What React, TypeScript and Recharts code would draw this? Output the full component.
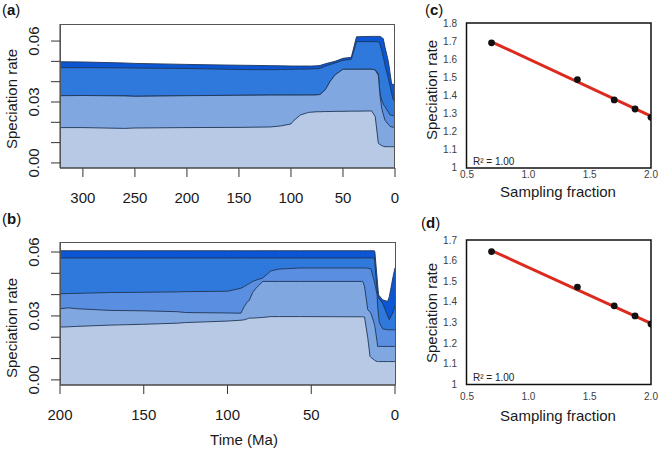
import { AreaChart, Area, XAxis, YAxis, ComposedChart, Line, Scatter } from 'recharts'

// panel (a): time before present (Ma) and five rate boundaries, lowest to highest
const timeA = [322, 300, 260, 250, 200, 150, 120, 110, 100, 98, 91, 83, 80, 75, 72, 67, 62.5, 57.7, 50, 42, 37, 22.4, 19, 16, 14.4, 12.8, 11.3, 9.6, 6.4, 4.8, 3.2, 1.6, 1, 0]
const a1 = [0.0174, 0.0174, 0.017, 0.0172, 0.0174, 0.0175, 0.0177, 0.0182, 0.0192, 0.0205, 0.0236, 0.0249, 0.025, 0.0252, 0.0252, 0.0253, 0.0253, 0.0254, 0.0254, 0.0255, 0.0255, 0.0256, 0.0228, 0.0097, 0.009, 0.0086, 0.0082, 0.008, 0.008, 0.008, 0.008, 0.008, 0.008, 0.008]
const a2 = [0.0331, 0.0332, 0.033, 0.0328, 0.0331, 0.0333, 0.0334, 0.0334, 0.0334, 0.0334, 0.0334, 0.0334, 0.0334, 0.0335, 0.0337, 0.036, 0.04, 0.0433, 0.0461, 0.0461, 0.0461, 0.0461, 0.0458, 0.043, 0.033, 0.027, 0.024, 0.021, 0.019, 0.018, 0.0177, 0.0176, 0.0176, 0.0176]
const a3 = [0.0331, 0.0332, 0.033, 0.0328, 0.0331, 0.0333, 0.0334, 0.0334, 0.0334, 0.0334, 0.0334, 0.0334, 0.0334, 0.0335, 0.0337, 0.036, 0.04, 0.0433, 0.0461, 0.0461, 0.0461, 0.0461, 0.0458, 0.044, 0.0343, 0.031, 0.029, 0.0277, 0.025, 0.0236, 0.0234, 0.0233, 0.0232, 0.0232]
const a4 = [0.0469, 0.0469, 0.0468, 0.0467, 0.0465, 0.046, 0.0459, 0.046, 0.0461, 0.0461, 0.0462, 0.0462, 0.0463, 0.0464, 0.0466, 0.0476, 0.0484, 0.0492, 0.0505, 0.051, 0.0597, 0.0597, 0.0597, 0.0597, 0.0585, 0.0555, 0.0523, 0.048, 0.0417, 0.038, 0.034, 0.031, 0.031, 0.031]
const a5 = [0.0498, 0.0497, 0.0492, 0.049, 0.0485, 0.0481, 0.0479, 0.0478, 0.0477, 0.0477, 0.0477, 0.0477, 0.0477, 0.0478, 0.048, 0.0488, 0.0494, 0.05, 0.0515, 0.052, 0.0621, 0.0623, 0.0623, 0.0623, 0.0623, 0.0618, 0.0612, 0.057, 0.05, 0.0445, 0.0388, 0.0386, 0.0386, 0.04]

// panel (b)
const timeB = [200, 195, 190, 170, 150, 130, 125, 100, 92, 90, 88, 87, 85, 83, 79, 74, 69, 57, 20, 19.3, 18.2, 16.3, 14.9, 14.3, 13, 12.3, 12, 10.7, 10.4, 9.8, 9.4, 7.4, 4.4, 3.4, 1, 0]
const b1 = [0.0248, 0.0249, 0.0251, 0.0257, 0.0261, 0.0266, 0.0269, 0.0276, 0.028, 0.0282, 0.0287, 0.029, 0.029, 0.0291, 0.0293, 0.0297, 0.0297, 0.0297, 0.0296, 0.0296, 0.0295, 0.02, 0.011, 0.0105, 0.0097, 0.0093, 0.0091, 0.0086, 0.0086, 0.0086, 0.0086, 0.0086, 0.0086, 0.0086, 0.0086, 0.0086]
const b2 = [0.0334, 0.0338, 0.0334, 0.0326, 0.0324, 0.032, 0.0316, 0.0314, 0.0313, 0.0344, 0.0368, 0.0373, 0.041, 0.043, 0.0462, 0.0462, 0.0462, 0.0462, 0.0462, 0.0462, 0.044, 0.033, 0.0318, 0.031, 0.028, 0.026, 0.025, 0.018, 0.0157, 0.0157, 0.0157, 0.0157, 0.0157, 0.0157, 0.0157, 0.0157]
const b3 = [0.0404, 0.0405, 0.0406, 0.041, 0.0411, 0.0413, 0.0414, 0.0416, 0.043, 0.0438, 0.0448, 0.0452, 0.0462, 0.0468, 0.0478, 0.0512, 0.052, 0.0525, 0.0525, 0.0525, 0.0525, 0.0524, 0.0522, 0.052, 0.048, 0.046, 0.045, 0.04, 0.035, 0.03, 0.027, 0.024, 0.0235, 0.0235, 0.0235, 0.0235]
const b4 = [0.0572, 0.0572, 0.0572, 0.0572, 0.0572, 0.0572, 0.0572, 0.0572, 0.0572, 0.0572, 0.0572, 0.0572, 0.0572, 0.0572, 0.0572, 0.0572, 0.0572, 0.0572, 0.0572, 0.0572, 0.0572, 0.0572, 0.0572, 0.0572, 0.0572, 0.0572, 0.054, 0.042, 0.0405, 0.0385, 0.038, 0.036, 0.03, 0.0282, 0.032, 0.035]
const b5 = [0.0606, 0.0606, 0.0606, 0.0606, 0.0606, 0.0606, 0.0606, 0.0606, 0.0606, 0.0606, 0.0606, 0.0606, 0.0606, 0.0606, 0.0606, 0.0606, 0.0606, 0.0606, 0.0606, 0.0606, 0.0606, 0.0606, 0.0606, 0.0606, 0.0606, 0.0606, 0.06, 0.048, 0.045, 0.04, 0.0395, 0.0376, 0.0368, 0.039, 0.049, 0.0526]

// panels (c) and (d)
const sampling = [0.7, 1.4, 1.7, 1.87, 2.0]
const rateC = [1.69, 1.487, 1.374, 1.324, 1.278]
const rateD = [1.644, 1.472, 1.381, 1.332, 1.293]
const fitX = [0.7, 2.0]
const fitC = [1.696, 1.284]
const fitD = [1.649, 1.296]

const ticksA = [300, 250, 200, 150, 100, 50, 0]
const ticksB = [200, 150, 100, 50, 0]
const rateTicks = [0, 0.01, 0.02, 0.03, 0.04, 0.05, 0.06]
const fracTicks = [0.5, 1, 1.5, 2]
const ticksC = [1, 1.1, 1.2, 1.3, 1.4, 1.5, 1.6, 1.7, 1.8]
const ticksD = [1, 1.1, 1.2, 1.3, 1.4, 1.5, 1.6, 1.7]

const FONT = '"Liberation Sans", Arial, sans-serif'
const BANDS = ['#0c56d3', '#2f78dc', '#5a8ee0', '#80a7df', '#b7c9e4']
const EDGE = '#1f3557'
const RED = '#dc2a1e'

const rows = (t: number[], s: number[][]) =>
  t.map((v, i) => ({ t: v, b1: s[0][i], b2: s[1][i], b3: s[2][i], b4: s[3][i], b5: s[4][i] }))
const pts = (x: number[], y: number[]) => x.map((v, i) => ({ x: v, y: y[i] }))

function RateTick(props: any) {
  const { y, payload } = props
  const v = payload.value as number
  if (Math.round(v * 100) % 3 !== 0) return <g />
  return (
    <text x={34} y={y} transform={`rotate(-90 34 ${y})`} textAnchor="middle" dominantBaseline="central" fontSize={15} fill="#1a1a1a">
      {v.toFixed(2)}
    </text>
  )
}

function RatePanel({ data, top, height, marginTop, xHeight, maxAge, ticks, yDomain }: any) {
  return (
    <div style={{ position: 'absolute', left: 0, top, width: 400, height }}>
      <AreaChart width={400} height={height} data={data} margin={{ top: marginTop, right: 5, bottom: 0, left: 0 }}>
        <XAxis
          dataKey="t"
          type="number"
          domain={[0, maxAge]}
          reversed
          allowDataOverflow
          ticks={ticks}
          interval={0}
          height={xHeight}
          tickSize={9}
          tickMargin={15}
          stroke="#333"
          tick={{ fontSize: 15, fill: '#1a1a1a' }}
        />
        <YAxis
          type="number"
          domain={yDomain}
          allowDataOverflow
          ticks={rateTicks}
          interval={0}
          width={60}
          tickSize={9}
          stroke="#333"
          tick={<RateTick />}
        />
        {['b5', 'b4', 'b3', 'b2', 'b1'].map((k, i) => (
          <Area
            key={k}
            type="linear"
            dataKey={k}
            baseValue="dataMin"
            fill={BANDS[i]}
            fillOpacity={1}
            stroke={EDGE}
            strokeWidth={0.9}
            dot={false}
            activeDot={false}
            isAnimationActive={false}
          />
        ))}
      </AreaChart>
    </div>
  )
}

function FitPanel({ top, height, marginTop, xHeight, tickMargin, points, fit, yMax, yTicks }: any) {
  return (
    <div style={{ position: 'absolute', left: 400, top, width: 260, height }}>
      <ComposedChart width={260} height={height} margin={{ top: marginTop, right: 9, bottom: 0, left: 0 }}>
        <XAxis
          dataKey="x"
          type="number"
          domain={[0.5, 2]}
          allowDataOverflow
          ticks={fracTicks}
          interval={0}
          height={xHeight}
          axisLine={false}
          tickLine={false}
          tickSize={0}
          tickMargin={tickMargin}
          tickFormatter={(v: number) => v.toFixed(1)}
          tick={{ fontSize: 10, fill: '#404040' }}
        />
        <YAxis
          type="number"
          domain={[1, yMax]}
          allowDataOverflow
          ticks={yTicks}
          interval={0}
          width={67}
          axisLine={false}
          tickLine={false}
          tickSize={0}
          tickMargin={10}
          tickFormatter={(v: number) => (v === 1 ? '1' : v.toFixed(1))}
          tick={{ fontSize: 10, fill: '#404040' }}
        />
        <Line data={fit} dataKey="y" type="linear" stroke={RED} strokeWidth={3} dot={false} activeDot={false} isAnimationActive={false} />
        <Scatter
          data={points}
          dataKey="y"
          isAnimationActive={false}
          shape={(p: any) => <circle cx={p.cx} cy={p.cy} r={3.4} fill="#111" />}
        />
      </ComposedChart>
    </div>
  )
}

export default function App() {
  const dataA = rows(timeA, [a1, a2, a3, a4, a5])
  const dataB = rows(timeB, [b1, b2, b3, b4, b5])
  const title = { fontSize: 15, fill: '#1a1a1a', textAnchor: 'middle' as const, dominantBaseline: 'central' as const }

  return (
    <div style={{ position: 'absolute', left: 0, top: 0, width: 660, height: 450, background: '#fff', fontFamily: FONT, overflow: 'hidden' }}>
      <RatePanel data={dataA} top={0} height={215} marginTop={24} xHeight={47} maxAge={322} ticks={ticksA} yDomain={[-0.0025, 0.0684]} />
      <RatePanel data={dataB} top={220} height={230} marginTop={22} xHeight={65} maxAge={200} ticks={ticksB} yDomain={[-0.0024, 0.0647]} />
      <FitPanel top={0} height={215} marginTop={23} xHeight={47.5} tickMargin={3} points={pts(sampling, rateC)} fit={pts(fitX, fitC)} yMax={1.8} yTicks={ticksC} />
      <FitPanel top={220} height={230} marginTop={20} xHeight={65.5} tickMargin={8} points={pts(sampling, rateD)} fit={pts(fitX, fitD)} yMax={1.7} yTicks={ticksD} />

      <svg width={660} height={450} style={{ position: 'absolute', left: 0, top: 0, pointerEvents: 'none' }}>
        <rect x={60.5} y={24.5} width={334} height={143.5} fill="none" stroke="#555" />
        <rect x={60.5} y={242.5} width={335} height={142.5} fill="none" stroke="#555" />
        <rect x={466.5} y={23} width={184.5} height={145} fill="none" stroke="#111" strokeWidth={1.5} />
        <rect x={466.5} y={240} width={184.5} height={144.5} fill="none" stroke="#111" strokeWidth={1.5} />

        <text x={2} y={15} fontSize={15} fill="#111">(<tspan fontWeight="bold">a</tspan>)</text>
        <text x={2} y={224} fontSize={15} fill="#111">(<tspan fontWeight="bold">b</tspan>)</text>
        <text x={425} y={15} fontSize={15} fill="#111">(<tspan fontWeight="bold">c</tspan>)</text>
        <text x={421} y={228} fontSize={15} fill="#111">(<tspan fontWeight="bold">d</tspan>)</text>

        <text x={11} y={99} transform="rotate(-90 11 99)" {...title}>Speciation rate</text>
        <text x={11} y={328} transform="rotate(-90 11 328)" {...title}>Speciation rate</text>
        <text x={244} y={439} {...title}>Time (Ma)</text>

        <text x={431} y={90} transform="rotate(-90 431 90)" {...title}>Speciation rate</text>
        <text x={558} y={191} {...title}>Sampling fraction</text>
        <text x={431} y={313} transform="rotate(-90 431 313)" {...title}>Speciation rate</text>
        <text x={558} y={415} {...title}>Sampling fraction</text>

        <text x={473} y={161} fontSize={10} fill="#222" dominantBaseline="central">R² = 1.00</text>
        <text x={473} y={377} fontSize={10} fill="#222" dominantBaseline="central">R² = 1.00</text>
      </svg>
    </div>
  )
}
